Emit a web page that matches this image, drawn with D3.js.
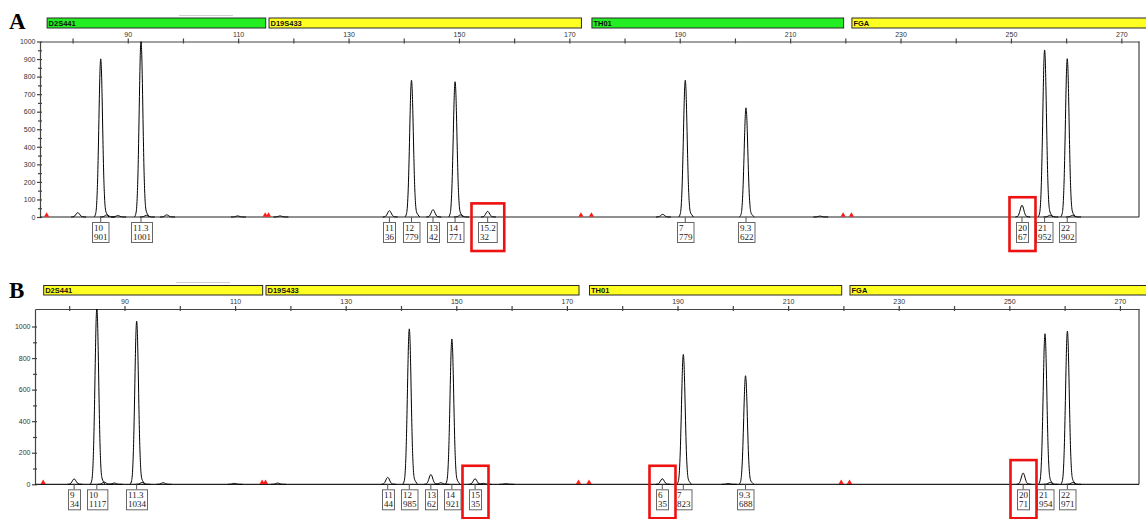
<!DOCTYPE html>
<html lang="en">
<head>
<meta charset="UTF-8">
<title>Electropherogram</title>
<script src="https://cdn.jsdelivr.net/npm/d3@7"></script>
<style>
    body { margin: 0; background: #fff; }
    svg { display: block; }
    .axis path, .axis line { stroke: #444; stroke-width: 1.2; }
    .axis text { font: 7px "Liberation Sans", Arial, sans-serif; fill: #333; }
    .marker-name { font: bold 7.5px "Liberation Sans", Arial, sans-serif; fill: #111; }
    .allele text { font: 9px "Liberation Serif", "Times New Roman", serif; fill: #222; }
    .panel-tag { font: bold 23px "Liberation Serif", "Times New Roman", serif; fill: #000; }
</style>
</head>
<body>
<svg width="1146" height="519"></svg>
<script>
// loci (bins in bp)
var loci = ["D2S441", "D19S433", "TH01", "FGA"];
var lociStart = [75.3, 115.5, 174.0, 221.1];
var lociEnd = [114.9, 172.1, 219.6, 290];
var lociColorA = ["#22ee22", "#ffff22", "#22ee22", "#ffff22"];
var lociColorB = ["#ffff22", "#ffff22", "#ffff22", "#ffff22"];
var flagSizes = [75.3, 114.9, 115.5, 172.1, 174.0, 219.6, 221.1];

// panel A: called alleles
var allelesA = ["10", "11.3", "11", "12", "13", "14", "15.2", "7", "9.3", "20", "21", "22"];
var sizesA = [85.1, 92.4, 137.4, 141.4, 145.3, 149.3, 155.2, 191.0, 202.0, 252.0, 256.1, 260.2];
var rfuA = [901, 1001, 36, 779, 42, 771, 32, 779, 622, 67, 952, 902];
var boxedA = ["15.2", "20"];
// panel A: small uncalled bumps
var noiseSizesA = [80.95, 86.2, 88.2, 93.4, 97.06, 109.9, 117.6, 150.3, 186.9, 215.4, 257.1, 261.2];
var noiseRfuA = [25, 12, 8, 10, 12, 6, 6, 12, 15, 5, 10, 10];

// panel B: called alleles
var allelesB = ["9", "10", "11.3", "11", "12", "13", "14", "15", "6", "7", "9.3", "20", "21", "22"];
var sizesB = [80.9, 85.0, 92.2, 137.6, 141.5, 145.4, 149.2, 153.4, 187.25, 191.05, 202.3, 252.5, 256.45, 260.5];
var rfuB = [34, 1117, 1034, 44, 985, 62, 921, 35, 35, 823, 688, 71, 954, 971];
var boxedB = ["15", "6", "20"];
var noiseSizesB = [86.35, 88.16, 93.2, 97.0, 109.86, 117.7, 147.2, 154.9, 159.0, 199.2, 257.4, 261.5];
var noiseRfuB = [14, 8, 12, 10, 6, 8, 10, 6, 4, 5, 12, 12];

// peak profile: offset (bp), fraction of peak height
var peakDx = [-1.2, -0.9, -0.7, -0.55, -0.4, -0.25, -0.12, 0, 0.12, 0.25, 0.4, 0.55, 0.7, 0.9, 1.2, 1.5];
var peakRel = [0, 0.024, 0.105, 0.25, 0.48, 0.75, 0.936, 1, 0.94, 0.76, 0.49, 0.26, 0.12, 0.04, 0.015, 0];

var svg = d3.select("svg");

var panels = [
    {
        tag: "A", tagY: 29, barTop: 17.5, barH: 10, axisY: 41.5, baseY: 217,
        left: 40, right: 1139, domain: [74.1, 273.2], yTop: 1000,
        yMajor: d3.range(0, 1001, 100), yMinor: d3.range(50, 1000, 100),
        colors: lociColorA, alleles: allelesA, sizes: sizesA, rfu: rfuA, boxed: boxedA,
        noiseSizes: noiseSizesA, noiseRfu: noiseRfuA, redTop: 8, fade: [179, 233, 15.5]
    },
    {
        tag: "B", tagY: 298, barTop: 285, barH: 9.5, axisY: 309, baseY: 484.3,
        left: 35, right: 1139, domain: [73.82, 273.45], yTop: 1111,
        yMajor: d3.range(0, 1001, 200), yMinor: d3.range(100, 1100, 200),
        colors: lociColorB, alleles: allelesB, sizes: sizesB, rfu: rfuB, boxed: boxedB,
        noiseSizes: noiseSizesB, noiseRfu: noiseRfuB, redTop: 13, fade: [176, 230, 282.5]
    }
];

panels.forEach(function (cfg, pi) {
    var g = svg.append("g");
    var x = d3.scaleLinear().domain(cfg.domain).range([cfg.left, cfg.right]);
    var y = d3.scaleLinear().domain([0, cfg.yTop]).range([cfg.baseY, cfg.axisY]);

    g.append("text").attr("class", "panel-tag").attr("x", 9).attr("y", cfg.tagY).text(cfg.tag);

    g.append("line")
        .attr("x1", cfg.fade[0]).attr("x2", cfg.fade[1])
        .attr("y1", cfg.fade[2]).attr("y2", cfg.fade[2])
        .attr("stroke", "#cfcfcf");

    // locus bars
    var locus = g.selectAll(".locus")
        .data(loci)
        .enter()
        .append("g")
        .attr("class", "locus");

    locus.append("rect")
        .attr("x", function (d, i) { return x(lociStart[i]) + 0.5; })
        .attr("y", cfg.barTop + 0.5)
        .attr("width", function (d, i) { return Math.min(x(lociEnd[i]), 1150) - x(lociStart[i]); })
        .attr("height", cfg.barH)
        .attr("fill", function (d, i) { return cfg.colors[i]; })
        .attr("stroke", "#2a2a2a");

    locus.append("text")
        .attr("class", "marker-name")
        .attr("x", function (d, i) { return x(lociStart[i]) + 2; })
        .attr("y", cfg.barTop + cfg.barH - 1.5)
        .text(function (d) { return d; });

    // axes
    var topAxis = d3.axisTop(x)
        .tickValues(d3.range(80, 271, 10))
        .tickFormat(function (d) { return (d - 90) % 20 === 0 ? d : ""; })
        .tickSize(3).tickSizeOuter(0).tickPadding(2);
    g.append("g")
        .attr("class", "axis")
        .attr("transform", "translate(0," + cfg.axisY + ")")
        .call(topAxis)
        .selectAll(".tick line").attr("y1", 2);

    var leftAxis = d3.axisLeft(y)
        .tickValues(cfg.yMajor)
        .tickFormat(d3.format("d"))
        .tickSize(3).tickSizeOuter(0).tickPadding(1.5);
    g.append("g")
        .attr("class", "axis")
        .attr("transform", "translate(" + cfg.left + ",0)")
        .call(leftAxis)
        .selectAll(".tick line").attr("x1", 2);

    var minorAxis = d3.axisLeft(y)
        .tickValues(cfg.yMinor)
        .tickSize(2).tickSizeOuter(0).tickFormat("");
    var mg = g.append("g")
        .attr("class", "axis")
        .attr("transform", "translate(" + cfg.left + ",0)")
        .call(minorAxis);
    mg.select(".domain").remove();
    mg.selectAll(".tick line").attr("x1", 2);

    g.append("line")
        .attr("x1", cfg.right).attr("x2", cfg.right)
        .attr("y1", cfg.axisY).attr("y2", cfg.baseY)
        .attr("stroke", "#444").attr("stroke-width", 1.2);

    // trace
    g.append("clipPath").attr("id", "clip" + pi)
        .append("rect")
        .attr("x", cfg.left).attr("y", cfg.axisY)
        .attr("width", cfg.right - cfg.left).attr("height", cfg.baseY - cfg.axisY + 2);

    var peaks = cfg.sizes.map(function (s, i) { return { bp: s, rfu: cfg.rfu[i] }; })
        .concat(cfg.noiseSizes.map(function (s, i) { return { bp: s, rfu: cfg.noiseRfu[i] }; }));

    var line = d3.line()
        .x(function (d) { return x(d[0]); })
        .y(function (d) { return y(d[1]); })
        .curve(d3.curveMonotoneX);

    var trace = g.append("g").attr("clip-path", "url(#clip" + pi + ")");

    trace.append("line")
        .attr("x1", cfg.left).attr("x2", cfg.right)
        .attr("y1", cfg.baseY).attr("y2", cfg.baseY)
        .attr("stroke", "#222").attr("stroke-width", 1.2);

    trace.selectAll(".peak")
        .data(peaks)
        .enter()
        .append("path")
        .attr("class", "peak")
        .attr("fill", "none")
        .attr("stroke", "#000")
        .attr("stroke-width", 1)
        .attr("d", function (p) {
            return line(peakDx.map(function (dx, k) { return [p.bp + dx, p.rfu * peakRel[k]]; }));
        });

    // red size-standard flags
    g.selectAll(".flag")
        .data(flagSizes)
        .enter()
        .append("path")
        .attr("class", "flag")
        .attr("d", d3.symbol(d3.symbolTriangle).size(12))
        .attr("transform", function (d) { return "translate(" + x(d) + "," + (cfg.baseY - 1.8) + ")"; })
        .attr("fill", "#ff1a1a");

    // allele call boxes
    var boxTop = cfg.baseY + 5, boxH = 20;
    var call = g.selectAll(".allele")
        .data(cfg.alleles)
        .enter()
        .append("g")
        .attr("class", "allele");

    call.append("line")
        .attr("x1", function (d, i) { return x(cfg.sizes[i]); })
        .attr("x2", function (d, i) { return x(cfg.sizes[i]); })
        .attr("y1", cfg.baseY).attr("y2", boxTop)
        .attr("stroke", "#555");

    call.each(function (d, i) {
        var c = d3.select(this);
        var px = x(cfg.sizes[i]);
        var t1 = c.append("text").attr("y", boxTop + 8.5).text(d);
        var t2 = c.append("text").attr("y", boxTop + 17.5).text(cfg.rfu[i]);
        var w = Math.max(t1.node().getComputedTextLength(), t2.node().getComputedTextLength()) + 3;
        var bx = Math.round(px - w / 2) + 0.5;
        t1.attr("x", bx + 1.5);
        t2.attr("x", bx + 1.5);
        c.insert("rect", "text")
            .attr("x", bx).attr("y", boxTop + 0.5)
            .attr("width", w).attr("height", boxH)
            .attr("fill", "#fff").attr("stroke", "#666");
        if (cfg.boxed.indexOf(d) >= 0) {
            g.append("rect")
                .attr("x", bx - 7).attr("y", y(cfg.rfu[i]) - cfg.redTop)
                .attr("width", w + 14)
                .attr("height", boxTop + boxH + 9 - (y(cfg.rfu[i]) - cfg.redTop))
                .attr("fill", "none")
                .attr("stroke", "#ee1111")
                .attr("stroke-width", 2.6);
        }
    });
});
</script>
</body>
</html>
